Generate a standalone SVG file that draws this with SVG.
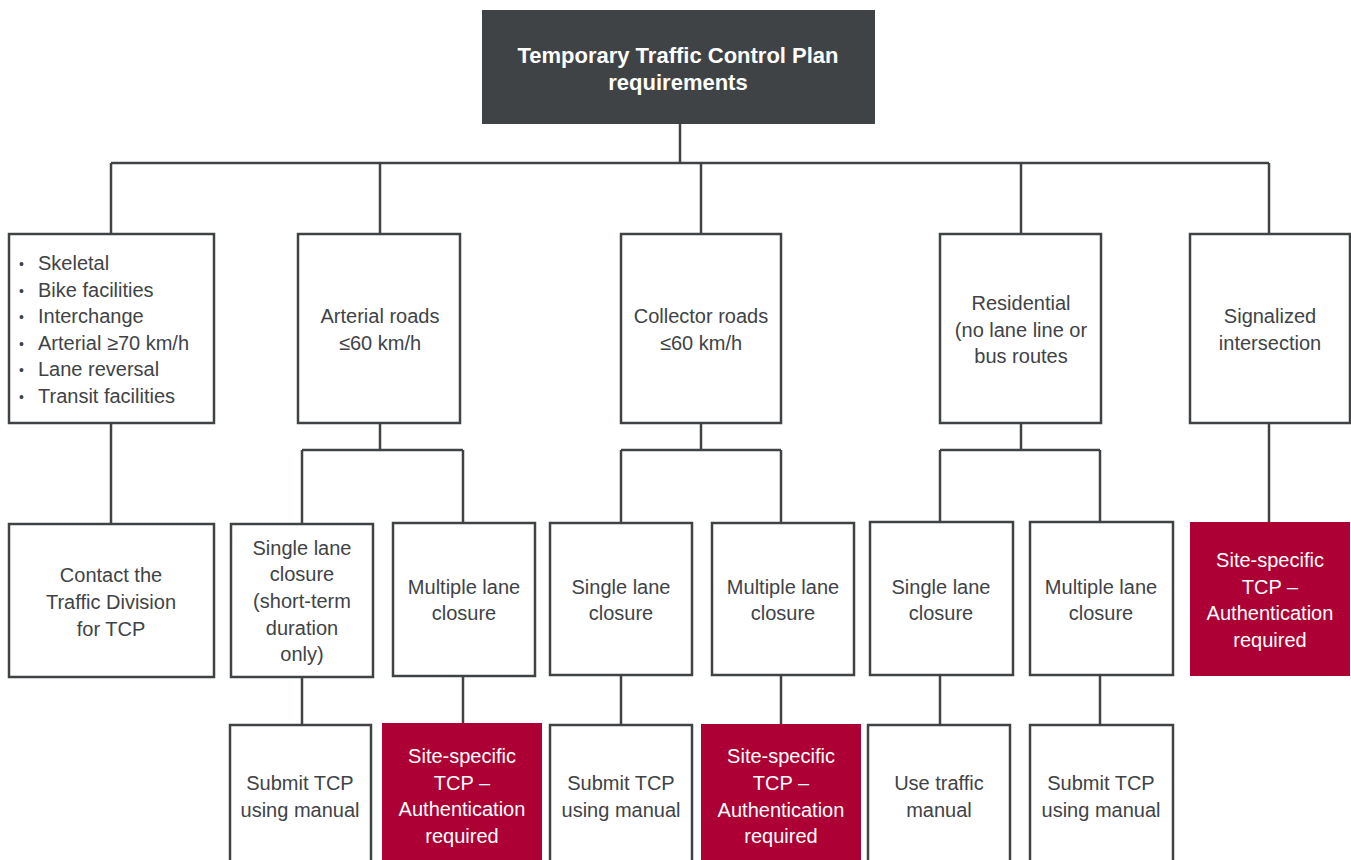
<svg xmlns="http://www.w3.org/2000/svg" width="1351" height="860" viewBox="0 0 1351 860">
<style>
.box{fill:#fff;stroke:#404346;stroke-width:2.5}
.dark{fill:#404346}
.red{fill:#ad0034}
.t{font-family:"Liberation Sans",Arial,sans-serif;font-size:20px;fill:#404346;text-anchor:middle}
.b{font-family:"Liberation Sans",Arial,sans-serif;font-size:22px;font-weight:bold;fill:#fff;text-anchor:middle}
.w{fill:#fff}
.l{text-anchor:start}
.con{fill:none;stroke:#404346;stroke-width:2.5}
</style>
<rect width="1351" height="860" fill="#fff"/>
<g id="connectors" class="con">
<path d="M680,124V163M111,163H1269M111,163V234M380,163V234M701,163V234M1021,163V234M1269,163V234"/>
<path d="M111,423V524"/>
<path d="M380,423V450M302,450H463M302,450V524M463,450V523M302,677V725M463,676V723"/>
<path d="M701,423V450M621,450H781M621,450V523M781,450V523M621,675V725M781,675V724"/>
<path d="M1021,423V450M940,450H1100M940,450V522M1100,450V522M940,675V725M1100,675V725"/>
<path d="M1269,423V522"/>
</g>
<g id="root"><rect class="dark" x="482" y="10" width="393" height="114"/>
<text class="b" x="678" y="63">Temporary Traffic Control Plan</text><text class="b" x="678" y="90">requirements</text></g>
<g id="n-skeletal"><rect class="box" x="9" y="234" width="205" height="189"/>
<g class="t l"><text x="19" y="269" font-size="14">•</text><text x="19" y="296" font-size="14">•</text><text x="19" y="322" font-size="14">•</text><text x="19" y="349" font-size="14">•</text><text x="19" y="375" font-size="14">•</text><text x="19" y="402" font-size="14">•</text>
<text class="t l" x="38" y="270">Skeletal</text><text class="t l" x="38" y="297">Bike facilities</text><text class="t l" x="38" y="323">Interchange</text><text class="t l" x="38" y="350">Arterial ≥70 km/h</text><text class="t l" x="38" y="376">Lane reversal</text><text class="t l" x="38" y="403">Transit facilities</text></g></g>
<g id="n-arterial"><rect class="box" x="298" y="234" width="162" height="189"/>
<text class="t" x="380" y="323">Arterial roads</text><text class="t" x="380" y="350">≤60 km/h</text></g>
<g id="n-collector"><rect class="box" x="621" y="234" width="160" height="189"/>
<text class="t" x="701" y="323">Collector roads</text><text class="t" x="701" y="350">≤60 km/h</text></g>
<g id="n-residential"><rect class="box" x="940" y="234" width="161" height="189"/>
<text class="t" x="1021" y="310">Residential</text><text class="t" x="1021" y="337">(no lane line or</text><text class="t" x="1021" y="363">bus routes</text></g>
<g id="n-signalized"><rect class="box" x="1190" y="234" width="160" height="189"/>
<text class="t" x="1270" y="323">Signalized</text><text class="t" x="1270" y="350">intersection</text></g>
<g id="n-contact"><rect class="box" x="9" y="524" width="205" height="153"/>
<text class="t" x="111" y="582">Contact the</text><text class="t" x="111" y="609">Traffic Division</text><text class="t" x="111" y="636">for TCP</text></g>
<g id="n-art-single"><rect class="box" x="231" y="524" width="142" height="153"/>
<text class="t" x="302" y="555">Single lane</text><text class="t" x="302" y="581">closure</text><text class="t" x="302" y="608">(short-term</text><text class="t" x="302" y="635">duration</text><text class="t" x="302" y="661">only)</text></g>
<g id="n-art-multi"><rect class="box" x="393" y="523" width="142" height="153"/>
<text class="t" x="464" y="594">Multiple lane</text><text class="t" x="464" y="620">closure</text></g>
<g id="n-art-submit"><rect class="box" x="230" y="725" width="141" height="145"/>
<text class="t" x="300" y="790">Submit TCP</text><text class="t" x="300" y="817">using manual</text></g>
<g id="n-art-site"><rect class="red" x="382" y="723" width="160" height="147"/>
<text class="t w" x="462" y="763">Site-specific</text><text class="t w" x="462" y="790">TCP –</text><text class="t w" x="462" y="816">Authentication</text><text class="t w" x="462" y="843">required</text></g>
<g id="n-col-single"><rect class="box" x="550" y="523" width="142" height="152"/>
<text class="t" x="621" y="594">Single lane</text><text class="t" x="621" y="620">closure</text></g>
<g id="n-col-multi"><rect class="box" x="712" y="523" width="142" height="152"/>
<text class="t" x="783" y="594">Multiple lane</text><text class="t" x="783" y="620">closure</text></g>
<g id="n-col-submit"><rect class="box" x="550" y="725" width="142" height="145"/>
<text class="t" x="621" y="790">Submit TCP</text><text class="t" x="621" y="817">using manual</text></g>
<g id="n-col-site"><rect class="red" x="701" y="724" width="160" height="146"/>
<text class="t w" x="781" y="763">Site-specific</text><text class="t w" x="781" y="790">TCP –</text><text class="t w" x="781" y="817">Authentication</text><text class="t w" x="781" y="843">required</text></g>
<g id="n-res-single"><rect class="box" x="870" y="522" width="143" height="153"/>
<text class="t" x="941" y="594">Single lane</text><text class="t" x="941" y="620">closure</text></g>
<g id="n-res-multi"><rect class="box" x="1030" y="522" width="143" height="153"/>
<text class="t" x="1101" y="594">Multiple lane</text><text class="t" x="1101" y="620">closure</text></g>
<g id="n-res-use"><rect class="box" x="868" y="725" width="142" height="145"/>
<text class="t" x="939" y="790">Use traffic</text><text class="t" x="939" y="817">manual</text></g>
<g id="n-res-submit"><rect class="box" x="1030" y="725" width="143" height="145"/>
<text class="t" x="1101" y="790">Submit TCP</text><text class="t" x="1101" y="817">using manual</text></g>
<g id="n-sig-site"><rect class="red" x="1190" y="522" width="160" height="154"/>
<text class="t w" x="1270" y="567">Site-specific</text><text class="t w" x="1270" y="594">TCP –</text><text class="t w" x="1270" y="620">Authentication</text><text class="t w" x="1270" y="647">required</text></g>
</svg>
